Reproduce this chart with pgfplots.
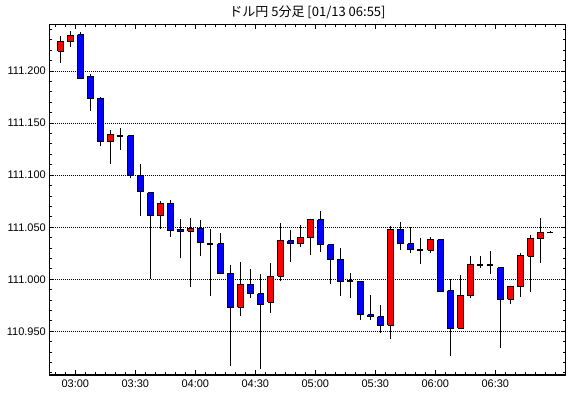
\documentclass[border=0pt]{standalone}
\usepackage{pgfplots}
\pgfplotsset{compat=1.18}
\usepackage{fontspec}
\setmainfont{Liberation Sans}
\newfontfamily\cjk{Noto Sans CJK JP}
\definecolor{cred}{RGB}{255,0,0}
\definecolor{cblue}{RGB}{0,0,255}
\begin{document}
\begin{tikzpicture}[x=1bp,y=1bp]
\useasboundingbox (0,0) rectangle (570,398);
\fill[white] (0,0) rectangle (570,398);
\begin{axis}[
  at={(49.3bp,23bp)}, anchor=south west,
  scale only axis, width=516.4bp, height=350.7bp,
  xmin=-1.1, xmax=50.54, ymin=110.908, ymax=111.245,
  xtick={1.5,7.5,13.5,19.5,25.5,31.5,37.5,43.5},
  xticklabels={03:00,03:30,04:00,04:30,05:00,05:30,06:00,06:30},
  minor xtick={-0.5,0.5,...,49.5},
  ytick={110.95,111,111.05,111.1,111.15,111.2},
  minor ytick={110.91,110.92,110.93,110.94,110.96,110.97,110.98,110.99,111.01,111.02,111.03,111.04,111.06,111.07,111.08,111.09,111.11,111.12,111.13,111.14,111.16,111.17,111.18,111.19,111.21,111.22,111.23,111.24},
  scaled y ticks=false,
  yticklabel style={/pgf/number format/.cd, fixed, fixed zerofill, precision=3, assume math mode=true, /tikz/.cd, font=\fontsize{11bp}{13bp}\selectfont},
  xticklabel style={font=\fontsize{11bp}{13bp}\selectfont, yshift=-1bp},
  tick align=inside,
  major tick length=5bp, minor tick length=3bp,
  tick style={black, line width=1bp},
  axis line style={black, line width=1.2bp},
  ymajorgrids,
  major grid style={black, line width=1bp, dash pattern=on 1bp off 1bp},
  clip=true,
]
% wicks (low to high)
\addplot[black, line width=1bp, mark=none, unbounded coords=jump] coordinates {
(0,111.208)(0,111.234)(0,nan)
(1,111.223)(1,111.239)(1,nan)
(2,111.192)(2,111.238)(2,nan)
(3,111.162)(3,111.197)(3,nan)
(4,111.128)(4,111.175)(4,nan)
(5,111.111)(5,111.143)(5,nan)
(6,111.124)(6,111.145)(6,nan)
(7,111.097)(7,111.139)(7,nan)
(8,111.061)(8,111.111)(8,nan)
(9,111.000)(9,111.083)(9,nan)
(10,111.048)(10,111.075)(10,nan)
(11,111.041)(11,111.076)(11,nan)
(12,111.020)(12,111.058)(12,nan)
(13,110.993)(13,111.059)(13,nan)
(14,111.022)(14,111.057)(14,nan)
(15,110.984)(15,111.048)(15,nan)
(16,111.005)(16,111.044)(16,nan)
(17,110.917)(17,111.014)(17,nan)
(18,110.965)(18,111.017)(18,nan)
(19,110.982)(19,111.010)(19,nan)
(20,110.914)(20,111.005)(20,nan)
(21,110.968)(21,111.016)(21,nan)
(22,110.998)(22,111.054)(22,nan)
(23,111.017)(23,111.047)(23,nan)
(24,111.031)(24,111.052)(24,nan)
(25,111.023)(25,111.058)(25,nan)
(26,111.026)(26,111.066)(26,nan)
(27,110.995)(27,111.033)(27,nan)
(28,110.984)(28,111.030)(28,nan)
(29,110.982)(29,111.006)(29,nan)
(30,110.961)(30,110.998)(30,nan)
(31,110.961)(31,110.985)(31,nan)
(32,110.948)(32,110.975)(32,nan)
(33,110.943)(33,111.051)(33,nan)
(34,111.028)(34,111.055)(34,nan)
(35,111.025)(35,111.050)(35,nan)
(36,111.015)(36,111.040)(36,nan)
(37,111.025)(37,111.041)(37,nan)
(38,110.988)(38,111.038)(38,nan)
(39,110.926)(39,111.000)(39,nan)
(40,110.953)(40,111.004)(40,nan)
(41,110.982)(41,111.022)(41,nan)
(42,111.011)(42,111.022)(42,nan)
(43,111.005)(43,111.027)(43,nan)
(44,110.934)(44,111.011)(44,nan)
(45,110.976)(45,110.994)(45,nan)
(46,110.983)(46,111.025)(46,nan)
(47,110.988)(47,111.043)(47,nan)
(48,111.016)(48,111.059)(48,nan)
(49,111.044)(49,111.046)
};
% rising candles (open, close)
\addplot[fill=cred, draw=black, line width=1bp, mark=none, unbounded coords=jump] coordinates {
(-0.27,111.219)(0.27,111.219)(0.27,111.228)(-0.27,111.228)(-0.27,111.219)(0,nan)
(0.73,111.228)(1.27,111.228)(1.27,111.234)(0.73,111.234)(0.73,111.228)(1,nan)
(4.73,111.132)(5.27,111.132)(5.27,111.139)(4.73,111.139)(4.73,111.132)(5,nan)
(9.73,111.061)(10.27,111.061)(10.27,111.073)(9.73,111.073)(9.73,111.061)(10,nan)
(12.73,111.046)(13.27,111.046)(13.27,111.049)(12.73,111.049)(12.73,111.046)(13,nan)
(17.73,110.973)(18.27,110.973)(18.27,110.995)(17.73,110.995)(17.73,110.973)(18,nan)
(20.73,110.978)(21.27,110.978)(21.27,111.003)(20.73,111.003)(20.73,110.978)(21,nan)
(21.73,111.003)(22.27,111.003)(22.27,111.037)(21.73,111.037)(21.73,111.003)(22,nan)
(23.73,111.034)(24.27,111.034)(24.27,111.040)(23.73,111.040)(23.73,111.034)(24,nan)
(24.73,111.040)(25.27,111.040)(25.27,111.057)(24.73,111.057)(24.73,111.040)(25,nan)
(32.73,110.956)(33.27,110.956)(33.27,111.048)(32.73,111.048)(32.73,110.956)(33,nan)
(36.73,111.028)(37.27,111.028)(37.27,111.038)(36.73,111.038)(36.73,111.028)(37,nan)
(39.73,110.953)(40.27,110.953)(40.27,110.984)(39.73,110.984)(39.73,110.953)(40,nan)
(40.73,110.984)(41.27,110.984)(41.27,111.014)(40.73,111.014)(40.73,110.984)(41,nan)
(44.73,110.981)(45.27,110.981)(45.27,110.993)(44.73,110.993)(44.73,110.981)(45,nan)
(45.73,110.993)(46.27,110.993)(46.27,111.023)(45.73,111.023)(45.73,110.993)(46,nan)
(46.73,111.022)(47.27,111.022)(47.27,111.039)(46.73,111.039)(46.73,111.022)(47,nan)
(47.73,111.039)(48.27,111.039)(48.27,111.045)(47.73,111.045)(47.73,111.039)
};
% falling candles (open, close)
\addplot[fill=cblue, draw=black, line width=1bp, mark=none, unbounded coords=jump] coordinates {
(1.73,111.235)(2.27,111.235)(2.27,111.193)(1.73,111.193)(1.73,111.235)(2,nan)
(2.73,111.195)(3.27,111.195)(3.27,111.174)(2.73,111.174)(2.73,111.195)(3,nan)
(3.73,111.174)(4.27,111.174)(4.27,111.132)(3.73,111.132)(3.73,111.174)(4,nan)
(6.73,111.138)(7.27,111.138)(7.27,111.100)(6.73,111.100)(6.73,111.138)(7,nan)
(7.73,111.100)(8.27,111.100)(8.27,111.084)(7.73,111.084)(7.73,111.100)(8,nan)
(8.73,111.083)(9.27,111.083)(9.27,111.061)(8.73,111.061)(8.73,111.083)(9,nan)
(10.73,111.073)(11.27,111.073)(11.27,111.047)(10.73,111.047)(10.73,111.073)(11,nan)
(11.73,111.048)(12.27,111.048)(12.27,111.046)(11.73,111.046)(11.73,111.048)(12,nan)
(13.73,111.049)(14.27,111.049)(14.27,111.035)(13.73,111.035)(13.73,111.049)(14,nan)
(15.73,111.034)(16.27,111.034)(16.27,111.006)(15.73,111.006)(15.73,111.034)(16,nan)
(16.73,111.006)(17.27,111.006)(17.27,110.973)(16.73,110.973)(16.73,111.006)(17,nan)
(18.73,110.995)(19.27,110.995)(19.27,110.986)(18.73,110.986)(18.73,110.995)(19,nan)
(19.73,110.986)(20.27,110.986)(20.27,110.976)(19.73,110.976)(19.73,110.986)(20,nan)
(22.73,111.037)(23.27,111.037)(23.27,111.034)(22.73,111.034)(22.73,111.037)(23,nan)
(25.73,111.057)(26.27,111.057)(26.27,111.033)(25.73,111.033)(25.73,111.057)(26,nan)
(26.73,111.033)(27.27,111.033)(27.27,111.019)(26.73,111.019)(26.73,111.033)(27,nan)
(27.73,111.019)(28.27,111.019)(28.27,110.998)(27.73,110.998)(27.73,111.019)(28,nan)
(29.73,110.998)(30.27,110.998)(30.27,110.966)(29.73,110.966)(29.73,110.998)(30,nan)
(30.73,110.966)(31.27,110.966)(31.27,110.964)(30.73,110.964)(30.73,110.966)(31,nan)
(31.73,110.964)(32.27,110.964)(32.27,110.956)(31.73,110.956)(31.73,110.964)(32,nan)
(33.73,111.048)(34.27,111.048)(34.27,111.034)(33.73,111.034)(33.73,111.048)(34,nan)
(34.73,111.034)(35.27,111.034)(35.27,111.029)(34.73,111.029)(34.73,111.034)(35,nan)
(37.73,111.038)(38.27,111.038)(38.27,110.988)(37.73,110.988)(37.73,111.038)(38,nan)
(38.73,110.989)(39.27,110.989)(39.27,110.953)(38.73,110.953)(38.73,110.989)(39,nan)
(43.73,111.011)(44.27,111.011)(44.27,110.981)(43.73,110.981)(43.73,111.011)
};
% unchanged candles (open = close)
\addplot[black, line width=1.8bp, mark=none, unbounded coords=jump] coordinates {
(5.69,111.138)(6.31,111.138)(6,nan)
(14.69,111.034)(15.31,111.034)(15,nan)
(28.69,110.998)(29.31,110.998)(29,nan)
(35.69,111.028)(36.31,111.028)(36,nan)
(41.69,111.014)(42.31,111.014)(42,nan)
(42.69,111.014)(43.31,111.014)(43,nan)
(48.69,111.045)(49.31,111.045)
};
\end{axis}
\node[anchor=base, font=\cjk\fontsize{13bp}{15bp}\selectfont] at (307.5,382) {ドル円 5分足 [01/13 06:55]};
\end{tikzpicture}
\end{document}
